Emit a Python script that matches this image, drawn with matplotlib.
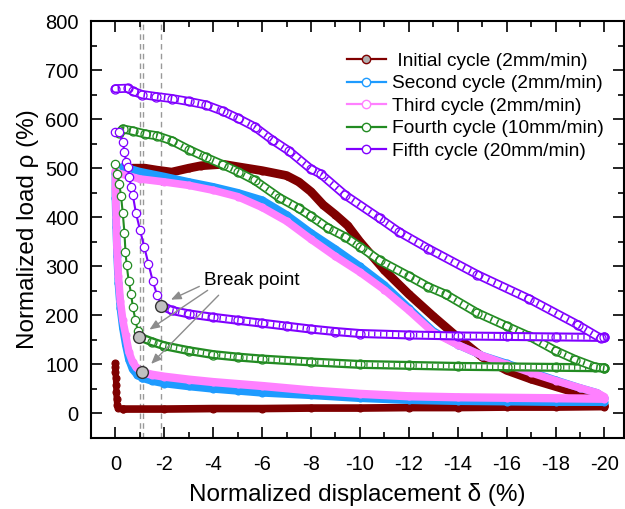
import matplotlib
matplotlib.use('Agg')
import matplotlib.pyplot as plt
from matplotlib.lines import Line2D
from matplotlib.ticker import MultipleLocator

plt.rcParams['font.family'] = ['Liberation Sans', 'DejaVu Sans']
plt.rcParams['axes.unicode_minus'] = False

# Initial cycle (2mm/min)
init_drop_x = [0.02, 0.0, 0.0, -0.02, -0.03, -0.04, -0.05, -0.07, -0.12, -0.3]
init_drop_y = [102, 95, 85, 72, 58, 44, 30, 18, 11, 9]
init_low_x = [-0.3, -2, -4, -6, -8, -10, -12, -14, -16, -18, -20]
init_low_y = [9, 9, 10, 10, 11, 11, 12, 12, 13, 13, 14]
init_up_x = [-20, -19.85, -19, -18, -17, -16, -15, -14, -13, -12, -11, -10, -9.5, -9, -8.5, -8,
             -7.5, -7, -6, -5, -4.4, -3.5, -3, -2.3, -1.7, -1.2, -0.7]
init_up_y = [16, 25, 40, 55, 70, 88, 115, 155, 198, 243, 292, 350, 383, 405, 425, 452,
             472, 485, 495, 503, 508, 505, 500, 492, 496, 500, 500]

# Second cycle (2mm/min)
sec_drop_x = [0.0, 0.0, -0.03, -0.07, -0.12, -0.2, -0.3, -0.42, -0.55, -0.7, -0.9, -1.1]
sec_drop_y = [490, 440, 380, 320, 265, 215, 175, 140, 110, 90, 78, 72]
sec_low_x = [-1.1, -1.5, -2, -3, -4, -5, -6, -8, -10, -12, -14, -16, -18, -20]
sec_low_y = [72, 66, 61, 55, 50, 46, 42, 37, 31, 27, 25, 24, 23, 23]
sec_up_x = [-20, -19.7, -19, -18, -17, -16, -15, -14, -13, -12, -11, -10, -9, -8, -7, -6,
            -5, -4, -3, -2, -1, -0.3]
sec_up_y = [32, 42, 52, 68, 85, 102, 118, 140, 168, 215, 262, 300, 335, 368, 405, 435,
            450, 462, 472, 483, 493, 503]

# Third cycle (2mm/min)
thr_drop_x = [0.0, 0.0, -0.03, -0.06, -0.12, -0.2, -0.3, -0.42, -0.55, -0.7, -0.85, -1.07]
thr_drop_y = [495, 460, 400, 340, 280, 230, 190, 160, 125, 105, 94, 84]
thr_low_x = [-1.07, -1.5, -2, -3, -4, -5, -6, -8, -10, -12, -14, -16, -18, -20]
thr_low_y = [84, 79, 75, 69, 64, 60, 56, 47, 40, 35, 33, 32, 31, 30]
thr_up_x = [-20, -19.7, -19, -18, -17, -16, -15, -14, -13, -12, -11, -10, -9, -8, -7, -6,
            -5, -4, -3, -2, -1, -0.1]
thr_up_y = [34, 42, 52, 67, 83, 100, 118, 140, 165, 210, 252, 288, 320, 355, 392, 420,
            442, 455, 465, 472, 478, 490]

# Fourth cycle (10mm/min)
fou_drop_x = [0.0, -0.08, -0.16, -0.23, -0.3, -0.37, -0.41, -0.46, -0.54, -0.64, -0.71, -0.82, -0.91, -0.98]
fou_drop_y = [508, 488, 467, 443, 408, 367, 329, 302, 271, 244, 217, 190, 169, 156]
fou_low_x = [-0.98, -1.5, -2, -3, -4, -5, -6, -8, -10, -12, -14, -16, -18, -20]
fou_low_y = [156, 146, 138, 128, 120, 115, 111, 105, 100, 98, 96, 95, 94, 93]
fou_up_x = [-20, -19.6, -18.8, -18, -16.9, -16, -14.8, -13.5, -12.8, -12, -10.8, -10, -9.4, -8.7,
            -8, -7.5, -6.7, -5.7, -5, -4.4, -3.7, -3, -2.3, -1.7, -1.2, -0.7, -0.3, -0.15]
fou_up_y = [92, 95, 110, 128, 158, 178, 205, 243, 258, 280, 312, 340, 360, 378,
            402, 418, 440, 475, 493, 507, 522, 538, 556, 566, 570, 576, 580, 572]

# Fifth cycle (20mm/min)
fif_drop_x = [0.0, -0.16, -0.3, -0.37, -0.44, -0.5, -0.57, -0.64, -0.71, -0.84, -1.0, -1.18, -1.35, -1.52, -1.7, -1.88]
fif_drop_y = [573, 573, 553, 533, 512, 502, 482, 461, 445, 408, 375, 339, 305, 271, 242, 220]
fif_low_x = [-1.88, -2.3, -3, -4, -5, -6, -7, -8, -9, -10, -12, -14, -16, -18, -20]
fif_low_y = [220, 210, 203, 196, 190, 184, 178, 172, 167, 163, 160, 158, 157, 156, 155]
fif_up_x = [-20, -19.85, -18.9, -16.9, -14.8, -12.8, -11.6, -10.8, -9.4, -8.4, -8, -7.1, -6.4, -5.7,
            -5, -4.4, -3.7, -3, -2.3, -1.67, -1.1, -0.7, -0.5, 0.0]
fif_up_y = [155, 153, 181, 234, 283, 336, 370, 398, 445, 488, 498, 535, 558, 584,
            602, 616, 629, 636, 642, 646, 650, 657, 663, 662]

# break points and guide lines
bp_x = [-1.88, -0.98, -1.07]
bp_y = [220, 156, 84]
guide_x = [-1.01, -1.11, -1.86]

labels = [' Initial cycle (2mm/min)', 'Second cycle (2mm/min)', 'Third cycle (2mm/min)',
          'Fourth cycle (10mm/min)', 'Fifth cycle (20mm/min)']
colors = ['#800000', '#1E9BFF', '#FF80FF', '#228B22', '#8000FF']

fig = plt.figure(figsize=(6.25, 5.09), dpi=100)
ax = fig.add_axes([0.1456, 0.1395, 0.8528, 0.8192])


def solid_band(x, y, c, z, lw=5.5):
    ax.plot(x, y, color=c, lw=lw, solid_capstyle='round', solid_joinstyle='round', zorder=z)
    ax.plot(x, y, ls='none', marker='o', ms=5, mfc=c, mec=c, mew=0.8, zorder=z)


def tube(x, y, c, z, inner=4.0):
    # dense hollow circles: outline band, white core, short rungs across
    ax.plot(x, y, color=c, lw=6.5, solid_capstyle='round', solid_joinstyle='round', zorder=z)
    ax.plot(x, y, color='white', lw=inner, solid_capstyle='round', solid_joinstyle='round', zorder=z)
    ax.plot(x, y, color=c, lw=inner, ls=(0, (0.28, 0.95)), dash_capstyle='butt', zorder=z)
    ax.plot(x, y, ls='none', marker='o', ms=6.5, mfc='none', mec=c, mew=0.9, zorder=z)


def chain(x, y, c, z):
    ax.plot(x, y, color=c, lw=1.5, marker='o', ms=6, mfc='white', mec=c, mew=0.9, zorder=z)


for gx in guide_x:
    ax.axvline(gx, color='#999999', lw=1, ls=(0, (4, 3)), zorder=1)

# initial
solid_band(init_drop_x, init_drop_y, colors[0], 2, lw=4.5)
solid_band(init_low_x, init_low_y, colors[0], 2)
solid_band(init_up_x, init_up_y, colors[0], 2, lw=6.3)
# second
solid_band(sec_drop_x, sec_drop_y, colors[1], 3)
solid_band(sec_low_x, sec_low_y, colors[1], 3)
solid_band(sec_up_x, sec_up_y, colors[1], 3)
# third
solid_band(thr_drop_x, thr_drop_y, colors[2], 4)
solid_band(thr_low_x, thr_low_y, colors[2], 4, lw=6)
solid_band(thr_up_x, thr_up_y, colors[2], 4)
# fourth
chain(fou_drop_x, fou_drop_y, colors[3], 5)
tube(fou_low_x, fou_low_y, colors[3], 5, inner=3.2)
tube(fou_up_x, fou_up_y, colors[3], 5)
# fifth
chain(fif_drop_x, fif_drop_y, colors[4], 6)
tube(fif_low_x, fif_low_y, colors[4], 6, inner=3.5)
tube(fif_up_x, fif_up_y, colors[4], 6)

ax.plot(bp_x, bp_y, ls='none', marker='o', ms=8.5, mfc='#C0C0C0', mec='#333333', mew=1, zorder=8)

# annotation
ax.text(-3.63, 271, 'Break point', fontsize=13.7, ha='left', va='center', zorder=9)
tails = [(-3.43, 259), (-3.77, 251), (-4.22, 241)]
heads = [(-2.27, 232), (-1.39, 171), (-1.46, 101)]
for t, h in zip(tails, heads):
    ax.annotate('', xy=h, xytext=t, zorder=9,
                arrowprops=dict(arrowstyle='-|>,head_length=0.6,head_width=0.25',
                                color='#8C8C8C', lw=1, shrinkA=0, shrinkB=0))

ax.set_xlim(1, -20.8)
ax.set_ylim(-50, 800)
ax.xaxis.set_major_locator(MultipleLocator(2))
ax.xaxis.set_minor_locator(MultipleLocator(1))
ax.yaxis.set_major_locator(MultipleLocator(100))
ax.yaxis.set_minor_locator(MultipleLocator(50))
ax.tick_params(which='both', direction='in', top=True, right=True, width=1.2, labelsize=14.5)
ax.tick_params(which='major', length=8)
ax.tick_params(which='minor', length=4.5)
ax.tick_params(axis='x', pad=12)
ax.tick_params(axis='y', pad=9)
for s in ax.spines.values():
    s.set_linewidth(1.5)

ax.set_xlabel('Normalized displacement δ (%)', fontsize=17.5, labelpad=7)
ax.set_ylabel('Normalized load ρ (%)', fontsize=17.5, labelpad=4)

handles = []
for i, c in enumerate(colors):
    handles.append(Line2D([], [], color=c, lw=1.6, marker='o', ms=6,
                          mfc='#B0B0B0' if i == 0 else 'white', mec=c, mew=1))
leg = ax.legend(handles, labels, loc='upper left', bbox_to_anchor=(0.48, 0.925),
                frameon=False, fontsize=13.8, handlelength=2.03, handletextpad=0.31,
                labelspacing=0.27, borderpad=0, borderaxespad=0)
leg.set_zorder(10)

fig.savefig('out.png', dpi=100)
